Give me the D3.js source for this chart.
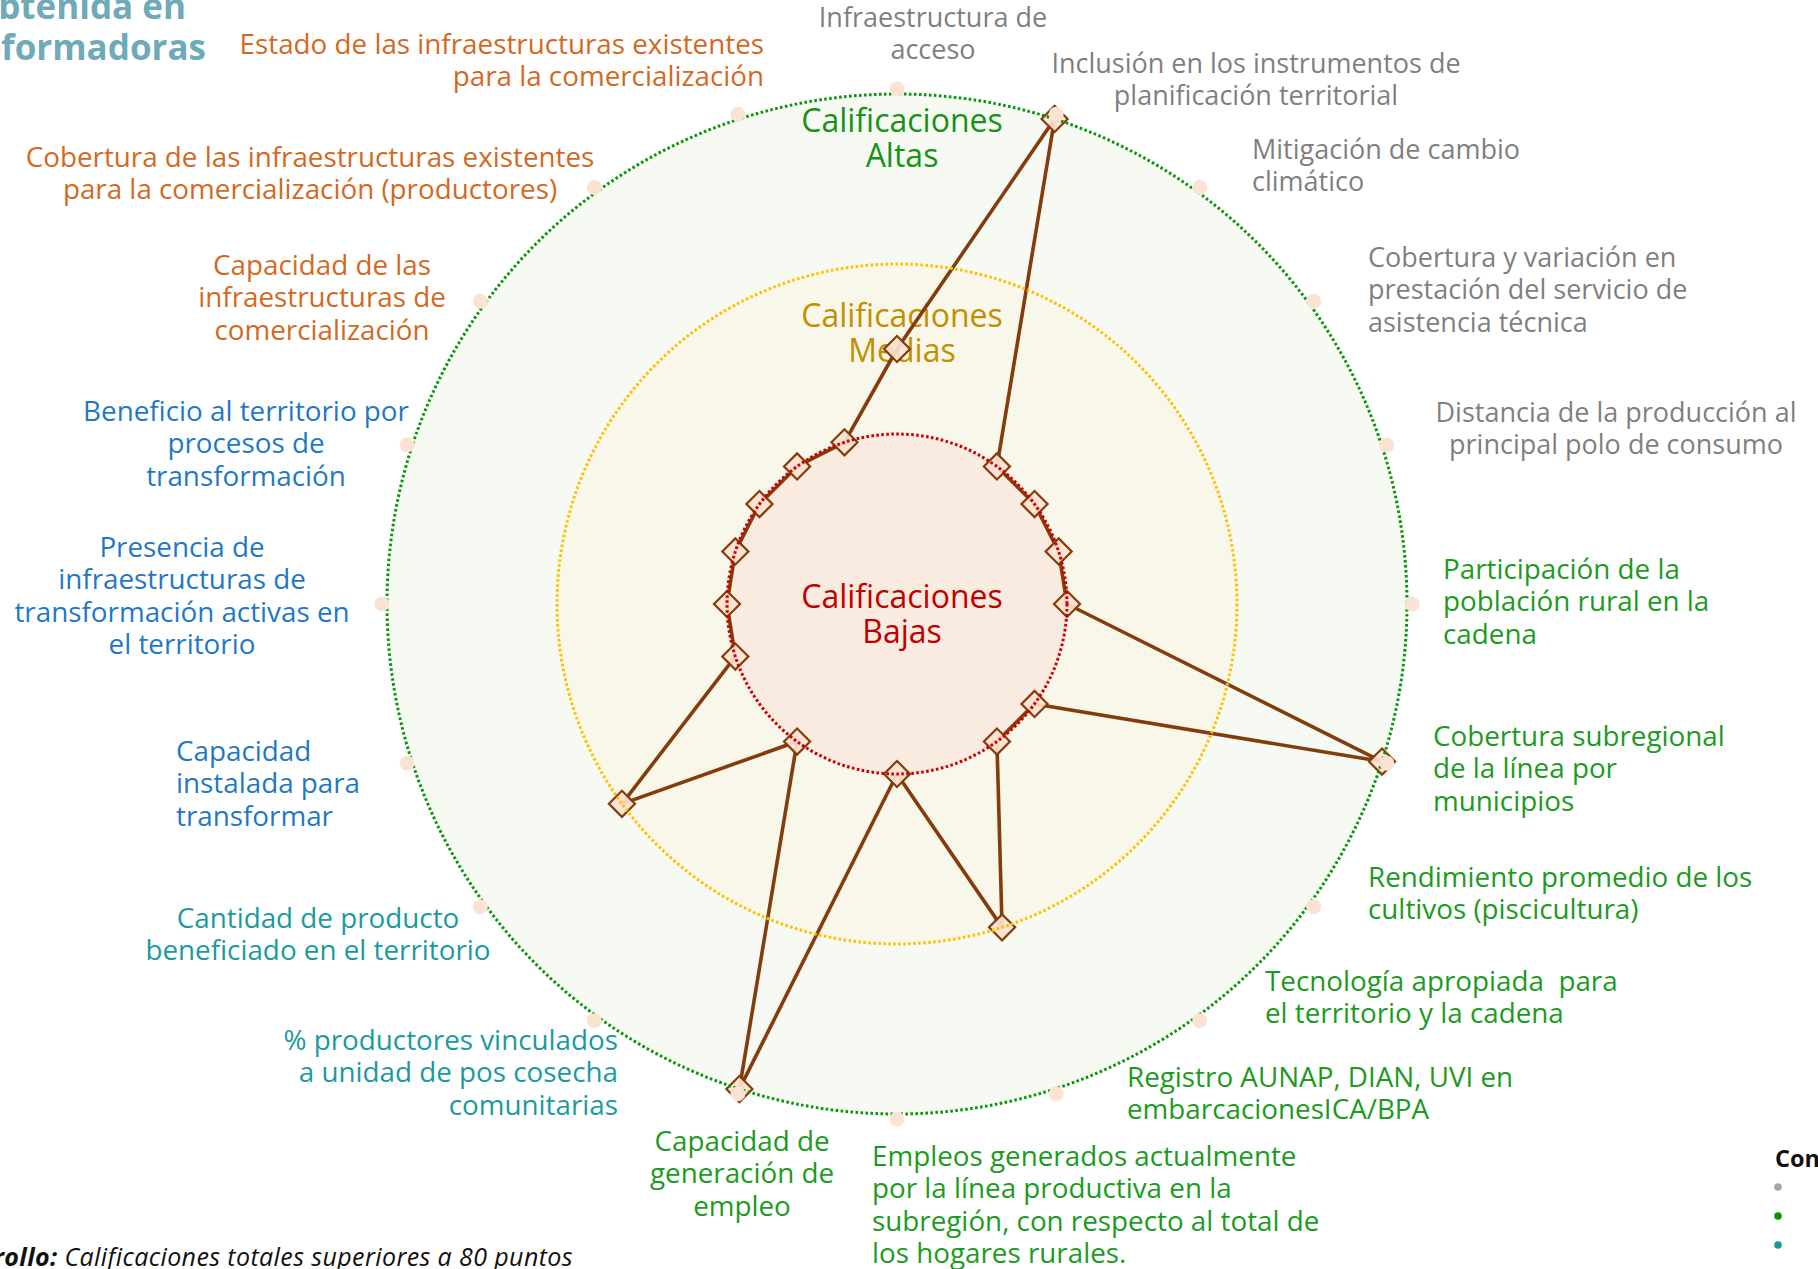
<!DOCTYPE html>
<html>
<head>
<meta charset="utf-8">
<script src="https://cdn.jsdelivr.net/npm/d3@7"></script>
<style>
  body { margin: 0; background: #fff; overflow: hidden; }
  svg { display: block; }
  text { font-family: "Open Sans", "Noto Sans", sans-serif; }
</style>
</head>
<body>
<div id="chart"></div>
<script>
// criterios, en el orden del radar (empieza arriba y gira a la derecha)
const categories = [
  ["Infraestructura de", "acceso"],
  ["Inclusión en los instrumentos de", "planificación territorial"],
  ["Mitigación de cambio", "climático"],
  ["Cobertura y variación en", "prestación del servicio de", "asistencia técnica"],
  ["Distancia de la producción al", "principal polo de consumo"],
  ["Participación de la", "población rural en la", "cadena"],
  ["Cobertura subregional", "de la línea por", "municipios"],
  ["Rendimiento promedio de los", "cultivos (piscicultura)"],
  ["Tecnología apropiada  para", "el territorio y la cadena"],
  ["Registro AUNAP, DIAN, UVI en", "embarcacionesICA/BPA"],
  ["Empleos generados actualmente", "por la línea productiva en la", "subregión, con respecto al total de", "los hogares rurales."],
  ["Capacidad de", "generación de", "empleo"],
  ["% productores vinculados", "a unidad de pos cosecha", "comunitarias"],
  ["Cantidad de producto", "beneficiado en el territorio"],
  ["Capacidad", "instalada para", "transformar"],
  ["Presencia de", "infraestructuras de", "transformación activas en", "el territorio"],
  ["Beneficio al territorio por", "procesos de", "transformación"],
  ["Capacidad de las", "infraestructuras de", "comercialización"],
  ["Cobertura de las infraestructuras existentes", "para la comercialización (productores)"],
  ["Estado de las infraestructuras existentes", "para la comercialización"]
];

// calificación de cada criterio (1 = baja, 2 = media, 3 = alta)
const scores = [1.5, 3, 1, 1, 1, 1, 3, 1, 1, 2, 1, 3, 1, 2, 1, 1, 1, 1, 1, 1];

// componente al que pertenece cada criterio
const groups = ["gris", "gris", "gris", "gris", "gris",
  "verde", "verde", "verde", "verde", "verde", "verde", "verde",
  "turquesa", "turquesa", "azul", "azul", "azul",
  "naranja", "naranja", "naranja"];

const levels = [3, 2, 1];
const levelNames = [["Calificaciones", "Altas"], ["Calificaciones", "Medias"], ["Calificaciones", "Bajas"]];
const legendGroups = ["gris", "verde", "turquesa"];

const width = 1818, height = 1269;
const cx = 897, cy = 604;

const groupColor = d3.scaleOrdinal()
  .domain(["gris", "verde", "turquesa", "azul", "naranja"])
  .range(["#7f7f7f", "#1c9a22", "#1a9a9e", "#1f78c4", "#d2691f"]);
const legendDotColor = d3.scaleOrdinal()
  .domain(["gris", "verde", "turquesa"])
  .range(["#a6a6a6", "#009a00", "#14979c"]);

const levelFill = d3.scaleOrdinal().domain(levels).range(["#f7faf2", "#f8f7ea", "#faebe0"]);
const levelStroke = d3.scaleOrdinal().domain(levels).range(["#0a960a", "#ffc000", "#cc0000"]);
const levelText = d3.scaleOrdinal().domain(levels).range(["#169216", "#bf9000", "#c00000"]);

const r = d3.scaleLinear().domain([0, 3]).range([0, 510]);
const angle = d3.scaleLinear().domain([0, categories.length]).range([0, 2 * Math.PI]);

// posición de cada rótulo (colocados a mano como en la lámina)
const labelLayout = [
  { x: 933, y: 27, anchor: "middle" },
  { x: 1256, y: 73, anchor: "middle" },
  { x: 1252, y: 159, anchor: "start" },
  { x: 1368, y: 267, anchor: "start" },
  { x: 1616, y: 422, anchor: "middle" },
  { x: 1443, y: 579, anchor: "start" },
  { x: 1433, y: 746, anchor: "start" },
  { x: 1368, y: 887, anchor: "start" },
  { x: 1265, y: 991, anchor: "start" },
  { x: 1127, y: 1087, anchor: "start" },
  { x: 872, y: 1166, anchor: "start" },
  { x: 742, y: 1151, anchor: "middle" },
  { x: 618, y: 1050, anchor: "end" },
  { x: 318, y: 928, anchor: "middle" },
  { x: 176, y: 761, anchor: "start" },
  { x: 182, y: 557, anchor: "middle" },
  { x: 246, y: 421, anchor: "middle" },
  { x: 322, y: 275, anchor: "middle" },
  { x: 310, y: 167, anchor: "middle" },
  { x: 764, y: 54, anchor: "end" }
];
const lineGap = 32.3;

const svg = d3.select("#chart").append("svg")
  .attr("width", width)
  .attr("height", height);

const g = svg.append("g").attr("transform", `translate(${cx},${cy})`);

// zonas de calificación
g.selectAll(".zone")
  .data(levels)
  .enter().append("circle")
  .attr("class", "zone")
  .attr("r", d => r(d))
  .attr("fill", d => levelFill(d));

// nombres de las zonas
const zoneY = { 3: -r(2.75), 2: -r(1.6), 1: r(0.05) };
levels.forEach((lv, i) => {
  const t = g.append("text")
    .attr("text-anchor", "middle")
    .attr("fill", levelText(lv))
    .attr("font-size", 32)
    .attr("y", zoneY[lv]);
  levelNames[i].forEach((line, k) => {
    t.append("tspan").attr("x", 5).attr("dy", k === 0 ? -5 : 35).text(line);
  });
});

// polígono de calificaciones
const radarLine = d3.lineRadial()
  .angle((d, i) => angle(i))
  .radius(d => r(d))
  .curve(d3.curveLinearClosed);

g.append("path")
  .datum(scores)
  .attr("d", radarLine)
  .attr("fill", "none")
  .attr("stroke", "#843c0c")
  .attr("stroke-width", 3.6)
  .attr("stroke-linejoin", "round");

g.selectAll(".mark")
  .data(scores)
  .enter().append("path")
  .attr("class", "mark")
  .attr("d", d3.symbol(d3.symbolSquare, 340))
  .attr("transform", (d, i) => {
    const [x, y] = d3.pointRadial(angle(i), r(d));
    return `translate(${x},${y}) rotate(45)`;
  })
  .attr("fill", "#fce2d3")
  .attr("fill-opacity", 0.92)
  .attr("stroke", "#843c0c")
  .attr("stroke-width", 2.2);

// bordes punteados de las zonas
g.selectAll(".ring")
  .data(levels)
  .enter().append("circle")
  .attr("class", "ring")
  .attr("r", d => r(d))
  .attr("fill", "none")
  .attr("stroke", d => levelStroke(d))
  .attr("stroke-width", 3)
  .attr("stroke-dasharray", "2.6 2.4");

// marcas de cada eje
g.selectAll(".tick")
  .data(categories)
  .enter().append("circle")
  .attr("class", "tick")
  .attr("r", 7.5)
  .attr("cx", (d, i) => d3.pointRadial(angle(i), r(3) + 5)[0])
  .attr("cy", (d, i) => d3.pointRadial(angle(i), r(3) + 5)[1])
  .attr("fill", "#fbe3d4");

// rótulos de los criterios
categories.forEach((lines, i) => {
  const pos = labelLayout[i];
  const t = svg.append("text")
    .attr("text-anchor", pos.anchor)
    .attr("fill", groupColor(groups[i]))
    .attr("font-size", groups[i] === "gris" ? 27 : 27.8)
    .attr("y", pos.y);
  lines.forEach((line, k) => {
    t.append("tspan")
      .attr("x", pos.x)
      .attr("dy", k === 0 ? 0 : lineGap)
      .attr("xml:space", "preserve")
      .text(line);
  });
});

// título (recortado por el borde de la lámina)
svg.append("text")
  .attr("x", 186).attr("y", 19)
  .attr("text-anchor", "end")
  .attr("font-size", 35).attr("font-weight", "bold")
  .attr("fill", "#6eaab7")
  .text("Calificación obtenida en");
svg.append("text")
  .attr("x", 206).attr("y", 60)
  .attr("text-anchor", "end")
  .attr("font-size", 35).attr("font-weight", "bold")
  .attr("fill", "#6eaab7")
  .text("líneas transformadoras");

// nota al pie
const note = svg.append("text")
  .attr("x", 573).attr("y", 1266)
  .attr("text-anchor", "end")
  .attr("font-size", 25)
  .attr("letter-spacing", 0.4)
  .attr("font-style", "italic")
  .attr("fill", "#111");
note.append("tspan").attr("font-weight", "bold").text("Alto desarrollo:");
note.append("tspan").text(" Calificaciones totales superiores a 80 puntos");

// leyenda (recortada a la derecha)
svg.append("text")
  .attr("x", 1775).attr("y", 1167)
  .attr("font-size", 23.5).attr("font-weight", "bold")
  .attr("fill", "#111")
  .text("Convenciones");
svg.selectAll(".legend-dot")
  .data(legendGroups)
  .enter().append("circle")
  .attr("class", "legend-dot")
  .attr("cx", 1778)
  .attr("cy", (d, i) => 1187 + i * 29)
  .attr("r", 3.8)
  .attr("fill", d => legendDotColor(d));
</script>
</body>
</html>
